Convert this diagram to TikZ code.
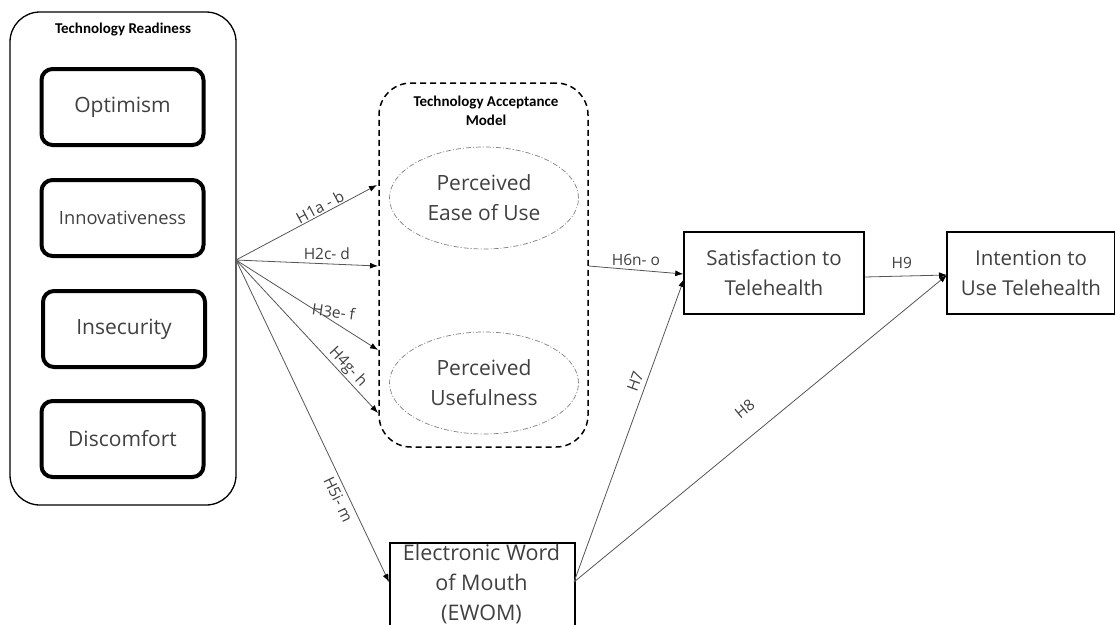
\documentclass[tikz,border=0pt]{standalone}
\usepackage{fontspec}
\setmainfont{Open Sans}
\newfontfamily\titlefont{Carlito}
\usetikzlibrary{arrows.meta,shapes.geometric}
\definecolor{txt}{HTML}{404040}
\definecolor{ln}{HTML}{555555}
\tikzset{
  outerbox/.style={draw=black, line width=1.3pt, rounded corners=30pt},
  trbox/.style={draw=black, line width=4pt, rounded corners=11pt, minimum width=162pt, minimum height=76pt, inner sep=0pt, text=txt, font=\fontsize{21}{25}\selectfont},
  tambox/.style={draw=black, line width=1.5pt, dash pattern=on 6pt off 4pt, rounded corners=32pt},
  ell/.style={draw=gray, ellipse, line width=0.7pt, dash pattern=on 5pt off 2pt on 1pt off 2pt, minimum width=189pt, minimum height=102pt, inner sep=0pt, text=txt, align=center, font=\fontsize{21}{30}\selectfont},
  plainbox/.style={draw=black, line width=1.5pt, inner sep=0pt, text=txt, align=center, font=\fontsize{20.5}{30}\selectfont},
  ttl/.style={font=\titlefont\bfseries\fontsize{15}{19}\selectfont, align=center, inner sep=0pt},
  conn/.style={draw=ln, line width=0.8pt, -{Latex[length=8pt,width=6pt,black]}},
  lab/.style={text=txt, font=\fontsize{15.5}{17}\selectfont, inner sep=1pt},
}
\begin{document}
\begin{tikzpicture}[x=1pt,y=-1pt]
\useasboundingbox (0,0) rectangle (1115,624);
% Technology Readiness
\node[outerbox, minimum width=226pt, minimum height=493pt, inner sep=0pt] (tr) at (123,258.5) {};
\node[ttl] (trt) at (123,30) {Technology Readiness};
\node[trbox] (opt) at (122.5,107) {Optimism};
\node[trbox, font=\fontsize{18.3}{22}\selectfont] (inn) at (122.5,218) {Innovativeness};
\node[trbox] (ins) at (124,329) {Insecurity};
\node[trbox] (dis) at (122.5,439) {Discomfort};
% TAM
\node[tambox, minimum width=209pt, minimum height=364pt, inner sep=0pt] (tam) at (483.5,265) {};
\node[ttl] (tamt) at (486,111) {Technology Acceptance\\Model};
\node[ell] (peou) at (484,198) {Perceived\\Ease of Use};
\node[ell] (pu) at (484,383) {Perceived\\Usefulness};
% Other boxes
\node[plainbox, minimum width=180pt, minimum height=82pt] (sat) at (774,273) {Satisfaction to\\Telehealth};
\node[plainbox, minimum width=168pt, minimum height=82pt] (int) at (1031,273) {Intention to\\Use Telehealth};
\node[plainbox, minimum width=185pt, minimum height=100pt, anchor=north west] (ewom) at (389,542) {};
\node[text=txt, align=center, font=\fontsize{21.5}{30}\selectfont, anchor=north, inner sep=0pt] (ewomt) at (481.5,544) {Electronic Word\\of Mouth\\(EWOM)};
% connectors
\coordinate (fan) at (236,260);
\coordinate (t1) at (377,185);
\coordinate (t2) at (378,266);
\coordinate (t3) at (378,350);
\coordinate (t4) at (378,413);
\coordinate (t5) at (389,582);
\coordinate (e1) at (574,582);
\coordinate (s1) at (684,279);
\coordinate (i1) at (947,275);
\draw[conn] (fan) -- (t1) node[lab, pos=0.62, above, sloped] {H1a - b};
\draw[conn] (fan) -- (t2) node[lab, pos=0.64, above=3pt] {H2c- d};
\draw[conn] (fan) -- (t3) node[lab, pos=0.68, anchor=south, yshift=2pt, rotate=-8] {H3e- f};
\draw[conn] (fan) -- (t4) node[lab, pos=0.74, above, sloped] {H4g- h};
\draw[conn] (fan) -- (t5) node[lab, pos=0.73, below=3pt, sloped] {H5i- m};
\draw[conn] (tam.east |- 0,266) -- (sat.west |- 0,274) node[lab, pos=0.5, above=3pt] {H6n- o};
\draw[conn] (sat.east |- 0,277) -- (i1) node[lab, pos=0.45, above=6pt] {H9};
\draw[conn] (e1) -- (s1) node[lab, pos=0.65, above=4pt, sloped] {H7};
\draw[conn] (e1) -- (i1) node[lab, pos=0.5, above=18pt, sloped] {H8};
\end{tikzpicture}
\end{document}
